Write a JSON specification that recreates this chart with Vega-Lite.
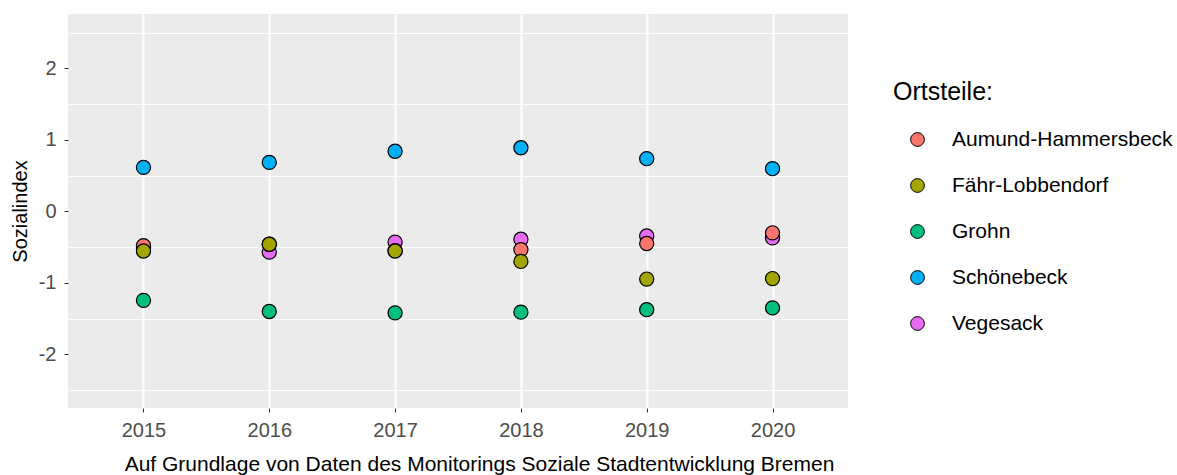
{
  "$schema": "https://vega.github.io/schema/vega-lite/v6.json",
  "width": 780,
  "height": 394,
  "autosize": "none",
  "padding": {"left": 68, "top": 14, "right": 329, "bottom": 67},
  "background": "white",
  "config": {
    "view": {"fill": "#EBEBEB", "stroke": null},
    "font": "Liberation Sans",
    "axis": {
      "domain": false,
      "grid": true,
      "gridColor": "white",
      "gridWidth": 2,
      "tickColor": "#333333",
      "tickSize": 4,
      "tickWidth": 1,
      "labelColor": "#4D4D4D",
      "labelFontSize": 20,
      "titleColor": "black",
      "titleFontWeight": "normal"
    }
  },
  "data": {
    "values": [
      {"Jahr": "2015", "Ortsteil": "Vegesack", "Sozialindex": -0.51},
      {"Jahr": "2016", "Ortsteil": "Vegesack", "Sozialindex": -0.57},
      {"Jahr": "2017", "Ortsteil": "Vegesack", "Sozialindex": -0.43},
      {"Jahr": "2018", "Ortsteil": "Vegesack", "Sozialindex": -0.39},
      {"Jahr": "2019", "Ortsteil": "Vegesack", "Sozialindex": -0.345},
      {"Jahr": "2020", "Ortsteil": "Vegesack", "Sozialindex": -0.37},
      {"Jahr": "2015", "Ortsteil": "Aumund-Hammersbeck", "Sozialindex": -0.48},
      {"Jahr": "2016", "Ortsteil": "Aumund-Hammersbeck", "Sozialindex": -0.46},
      {"Jahr": "2017", "Ortsteil": "Aumund-Hammersbeck", "Sozialindex": -0.55},
      {"Jahr": "2018", "Ortsteil": "Aumund-Hammersbeck", "Sozialindex": -0.535},
      {"Jahr": "2019", "Ortsteil": "Aumund-Hammersbeck", "Sozialindex": -0.45},
      {"Jahr": "2020", "Ortsteil": "Aumund-Hammersbeck", "Sozialindex": -0.30},
      {"Jahr": "2015", "Ortsteil": "Fähr-Lobbendorf", "Sozialindex": -0.555},
      {"Jahr": "2016", "Ortsteil": "Fähr-Lobbendorf", "Sozialindex": -0.46},
      {"Jahr": "2017", "Ortsteil": "Fähr-Lobbendorf", "Sozialindex": -0.555},
      {"Jahr": "2018", "Ortsteil": "Fähr-Lobbendorf", "Sozialindex": -0.70},
      {"Jahr": "2019", "Ortsteil": "Fähr-Lobbendorf", "Sozialindex": -0.947},
      {"Jahr": "2020", "Ortsteil": "Fähr-Lobbendorf", "Sozialindex": -0.94},
      {"Jahr": "2015", "Ortsteil": "Grohn", "Sozialindex": -1.245},
      {"Jahr": "2016", "Ortsteil": "Grohn", "Sozialindex": -1.40},
      {"Jahr": "2017", "Ortsteil": "Grohn", "Sozialindex": -1.42},
      {"Jahr": "2018", "Ortsteil": "Grohn", "Sozialindex": -1.41},
      {"Jahr": "2019", "Ortsteil": "Grohn", "Sozialindex": -1.375},
      {"Jahr": "2020", "Ortsteil": "Grohn", "Sozialindex": -1.35},
      {"Jahr": "2015", "Ortsteil": "Schönebeck", "Sozialindex": 0.615},
      {"Jahr": "2016", "Ortsteil": "Schönebeck", "Sozialindex": 0.685},
      {"Jahr": "2017", "Ortsteil": "Schönebeck", "Sozialindex": 0.84},
      {"Jahr": "2018", "Ortsteil": "Schönebeck", "Sozialindex": 0.89},
      {"Jahr": "2019", "Ortsteil": "Schönebeck", "Sozialindex": 0.737},
      {"Jahr": "2020", "Ortsteil": "Schönebeck", "Sozialindex": 0.597}
    ]
  },
  "layer": [
    {
      "mark": {"type": "point", "opacity": 0},
      "encoding": {
        "y": {
          "field": "Sozialindex",
          "type": "quantitative",
          "scale": {"domain": [-2.75, 2.76], "nice": false, "zero": false},
          "axis": {
            "orient": "right",
            "values": [-2.5, -1.5, -0.5, 0.5, 1.5, 2.5],
            "labels": false,
            "ticks": false,
            "domain": false,
            "grid": true,
            "gridColor": "white",
            "gridWidth": 0.9,
            "title": null
          }
        }
      }
    },
    {
      "mark": {"type": "point", "filled": true, "opacity": 1, "stroke": "black", "strokeWidth": 1.2, "size": 200},
      "encoding": {
        "x": {
          "field": "Jahr",
          "type": "ordinal",
          "scale": {"type": "point", "padding": 0.6},
          "axis": {
            "labelAngle": 0,
            "labelPadding": 8,
            "title": "Auf Grundlage von Daten des Monitorings Soziale Stadtentwicklung Bremen",
            "titleFontSize": 21,
            "titlePadding": 13,
            "titleX": 411,
            "titleAlign": "center"
          }
        },
        "y": {
          "field": "Sozialindex",
          "type": "quantitative",
          "scale": {"domain": [-2.75, 2.76], "nice": false, "zero": false},
          "axis": {
            "values": [-2, -1, 0, 1, 2],
            "labelExpr": "toString(datum.value)",
            "labelPadding": 8,
            "title": "Sozialindex",
            "titleFontSize": 20,
            "titlePadding": 8
          }
        },
        "color": {
          "field": "Ortsteil",
          "type": "nominal",
          "scale": {
            "domain": ["Aumund-Hammersbeck", "Fähr-Lobbendorf", "Grohn", "Schönebeck", "Vegesack"],
            "range": ["#F8766D", "#A3A500", "#00BF7D", "#00B0F6", "#E76BF3"]
          },
          "legend": {
            "title": "Ortsteile:",
            "orient": "none",
            "legendX": 825,
            "legendY": 66,
            "titleFontSize": 25,
            "titleFontWeight": "normal",
            "titleColor": "black",
            "titlePadding": 24,
            "labelFontSize": 21,
            "labelColor": "black",
            "labelLimit": 0,
            "symbolType": "circle",
            "symbolSize": 190,
            "symbolStrokeColor": "black",
            "symbolStrokeWidth": 1,
            "symbolOffset": 14,
            "labelOffset": 24,
            "rowPadding": 24
          }
        }
      }
    }
  ],
  "resolve": {"axis": {"y": "independent"}}
}
